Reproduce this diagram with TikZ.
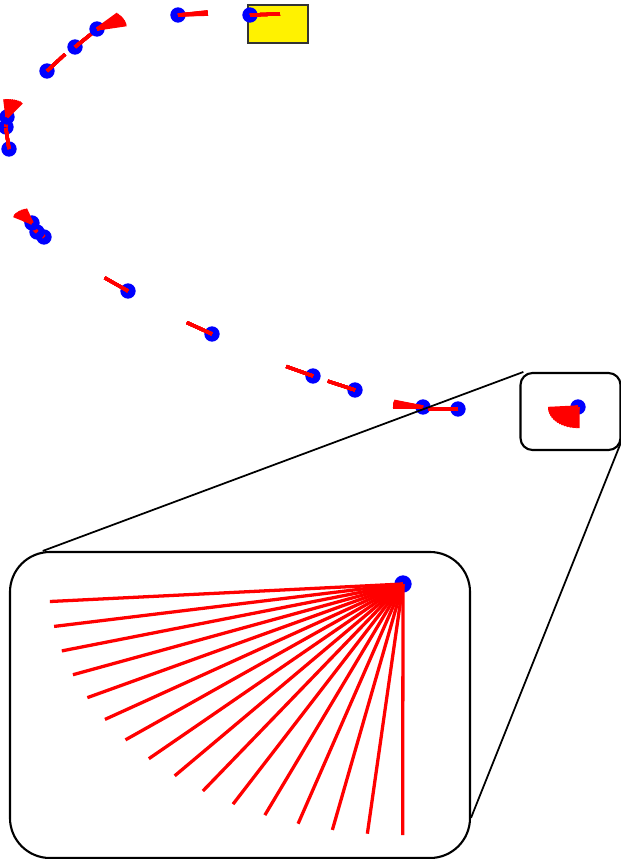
\documentclass[tikz,border=0pt]{standalone}
\usetikzlibrary{calc}
\tikzset{
  pose/.style={red, line width=2.8pt},
  zoombox/.style={draw, line width=1.8pt, rounded corners=#1, inner sep=0pt},
}
% one pose: blue dot and a fan of heading lines (a1 = a2 gives one line), [#1] = length factor
\newcommand{\pose}[5][1]{\fill[blue] (#2,#3) circle[radius=0.23cm];
  \foreach \k in {0,...,8}{\pgfmathsetmacro\a{#4+(#5-#4)*\k/8}
    \draw[pose] (#2,#3) -- ({#2+#1*30*cos(\a)},{#3+#1*21*sin(\a)});}}
\begin{document}
\begin{tikzpicture}[x=0.03cm, y=-0.03cm]
\useasboundingbox (0,0) rectangle (621,859);
\node[draw=black!80, fill=yellow, line width=1.3pt, inner sep=0pt, minimum width=1.8cm, minimum height=1.14cm] (goal) at (278,24) {};
% trajectory
\pose{250}{15}{-3}{-3}
\pose{178}{15}{-9}{-2}
\pose{75}{47}{-49}{-49}
\pose{97}{29}{-46}{-12}
\pose{47}{71}{-53}{-53}
\pose{6}{127}{-85}{-85}
\pose[0.85]{7}{117}{-95}{-55}
\pose{9}{149}{-96}{-96}
\pose{44}{237}{-125}{-125}
\pose{37}{232}{-125}{-125}
\pose[0.7]{32}{223}{-150}{-108}
\pose{128}{291}{-141}{-141}
\pose{212}{334}{-147}{-147}
\pose{313}{376}{-153}{-153}
\pose{355}{390}{-155}{-155}
\pose{423}{407}{180}{196}
\pose{458}{409}{180}{180}
% zoomed pose
\node[zoombox=0.36cm, minimum width=3cm, minimum height=2.31cm] (spot) at (570.5,411.5) {};
\fill[blue] (578,407) circle[radius=0.23cm];
\foreach \k in {0,...,15}
  \draw[pose] (578,407) -- ({578+30*cos(176-\k*5.73)},{407+21*sin(176-\k*5.73)});
\node[zoombox=1.2cm, minimum width=13.8cm, minimum height=9.18cm] (magnifier) at (240,705) {};
\fill[blue] (403,584) circle[radius=0.26cm];
\foreach \k in {0,...,15}
  \draw[pose] (403,584) -- ({403+354*cos(176-\k*5.73)},{584+251*sin(176-\k*5.73)});
\draw[line width=1.5pt] (spot.140) -- (magnifier.142.5);
\draw[line width=1.5pt] (spot.-30) -- (magnifier.-26.3);
\end{tikzpicture}
\end{document}
